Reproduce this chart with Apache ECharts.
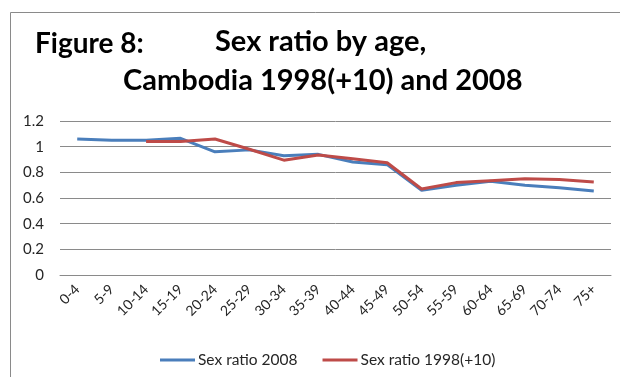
<!DOCTYPE html>
<html>
<head>
<meta charset="utf-8">
<script src="https://cdn.jsdelivr.net/npm/echarts@6/dist/echarts.min.js"></script>
<style>
  html, body { margin: 0; padding: 0; background: #fff; }
  #chart { width: 620px; height: 377px; }
</style>
</head>
<body>
<div id="chart"></div>
<script>
// age groups
const ageGroups = ['0-4', '5-9', '10-14', '15-19', '20-24', '25-29', '30-34', '35-39',
  '40-44', '45-49', '50-54', '55-59', '60-64', '65-69', '70-74', '75+'];

// sex ratio 2008
const ratio2008 = [1.06, 1.05, 1.05, 1.065, 0.96, 0.975, 0.93, 0.94,
  0.88, 0.86, 0.66, 0.70, 0.73, 0.70, 0.68, 0.655];

// sex ratio 1998 shifted +10 years (no value for the first two groups)
const ratio1998 = [null, null, 1.04, 1.04, 1.06, 0.98, 0.895, 0.935,
  0.905, 0.875, 0.67, 0.72, 0.735, 0.75, 0.745, 0.725];

const yTicks = [0, 0.2, 0.4, 0.6, 0.8, 1, 1.2];

const chart = echarts.init(document.getElementById('chart'));
const font = 'Lato, Open Sans, sans-serif';

chart.setOption({
  animation: false,
  backgroundColor: '#fff',
  graphic: [
    {
      type: 'rect',
      shape: { x: 10.5, y: 12.5, width: 700, height: 400 },
      style: { fill: 'none', stroke: '#8a8a8a', lineWidth: 1 }
    },
    {
      type: 'text', left: 35, top: 30,
      style: { text: 'Figure 8:', font: 'bold 28px ' + font, fill: '#000' }
    },
    {
      type: 'text', left: 215, top: 27,
      style: { text: 'Sex ratio by age,', font: 'bold 29px ' + font, fill: '#000' }
    },
    {
      type: 'text', left: 123, top: 66,
      style: { text: 'Cambodia 1998(+10) and 2008', font: 'bold 29px ' + font, fill: '#000' }
    }
  ],
  grid: { left: 60, right: 9, top: 121, bottom: 102, containLabel: false },
  legend: {
    top: 347,
    left: 155,
    itemWidth: 35,
    itemHeight: 3,
    itemGap: 25,
    icon: 'rect',
    textStyle: { fontSize: 15.5, color: '#262626', fontFamily: font, padding: [0, 0, 0, -2] },
    data: ['Sex ratio 2008', 'Sex ratio 1998(+10)']
  },
  xAxis: {
    type: 'category',
    data: ageGroups,
    boundaryGap: true,
    axisLine: { show: true, lineStyle: { color: '#8a8a8a' } },
    axisTick: { show: false },
    axisLabel: { rotate: 45, interval: 0, fontSize: 14, color: '#262626', fontFamily: font, margin: 12 }
  },
  yAxis: {
    type: 'value',
    min: 0, max: 1.2, interval: 0.2,
    axisLine: { show: false },
    axisTick: { show: false },
    axisLabel: {
      fontSize: 15, color: '#262626', fontFamily: font, margin: 16,
      formatter: v => {
        const t = yTicks.find(x => Math.abs(x - v) < 1e-6);
        return String(t !== undefined ? t : v);
      }
    },
    splitLine: { lineStyle: { color: '#8a8a8a', width: 1 } }
  },
  series: [
    {
      name: 'Sex ratio 2008',
      type: 'line',
      data: ratio2008,
      showSymbol: false,
      symbol: 'none',
      lineStyle: { width: 3, color: '#4a7ebb' },
      itemStyle: { color: '#4a7ebb' }
    },
    {
      name: 'Sex ratio 1998(+10)',
      type: 'line',
      data: ratio1998,
      showSymbol: false,
      symbol: 'none',
      lineStyle: { width: 3, color: '#be4b48' },
      itemStyle: { color: '#be4b48' }
    }
  ]
});
</script>
</body>
</html>
